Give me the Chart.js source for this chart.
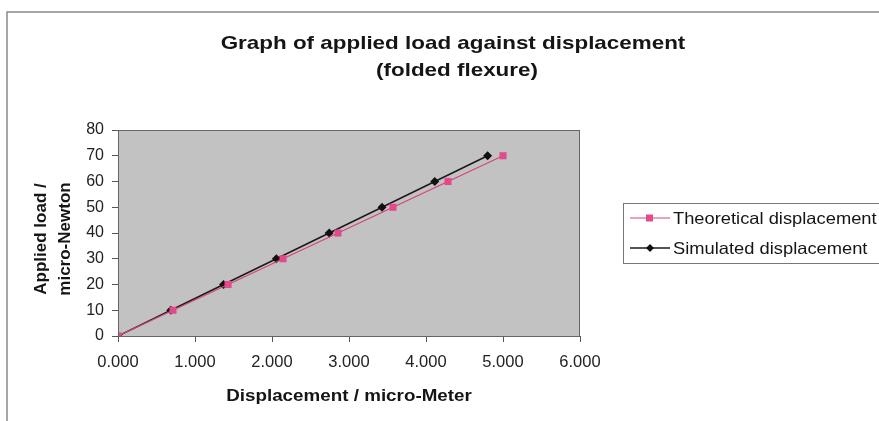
<!DOCTYPE html>
<html>
<head>
<meta charset="utf-8">
<script src="https://cdn.jsdelivr.net/npm/chart.js@4/dist/chart.umd.min.js"></script>
<style>
  html, body { margin: 0; padding: 0; background: #ffffff; }
  #wrap { position: relative; width: 879px; height: 421px; }
</style>
</head>
<body>
<div id="wrap"><canvas id="chart" width="879" height="421"></canvas></div>
<script>
// Applied load (micro-Newton) for each load step
const loads = [0, 10, 20, 30, 40, 50, 60, 70];
// Displacement (micro-Meter) predicted by theory
const theoreticalDisp = [0, 0.714, 1.429, 2.143, 2.857, 3.571, 4.286, 5.000];
// Displacement (micro-Meter) from simulation
const simulatedDisp = [0, 0.686, 1.371, 2.057, 2.743, 3.429, 4.114, 4.800];

const chartTitle = ['Graph of applied load against displacement', '(folded flexure)'];
const xTitle = 'Displacement / micro-Meter';
const yTitle = ['Applied load /', 'micro-Newton'];
const seriesNames = ['Theoretical displacement', 'Simulated displacement'];

const FONT = '"Liberation Sans", Arial, sans-serif';

function toPoints(xs, ys) {
  return xs.map((x, i) => ({ x: x, y: ys[i] }));
}

// Text drawn slightly widened, as in the sheet's printout
function wideText(ctx, text, x, y, sx) {
  ctx.save();
  ctx.translate(x, y);
  ctx.scale(sx, 1);
  ctx.fillText(text, 0, 0);
  ctx.restore();
}

// Frame, plot background and plot border
const framePlugin = {
  id: 'frame',
  beforeDraw(chart) {
    const ctx = chart.ctx;
    const a = chart.chartArea;
    ctx.save();
    ctx.fillStyle = '#ffffff';
    ctx.fillRect(0, 0, chart.width, chart.height);
    ctx.strokeStyle = '#8a8a8a';
    ctx.lineWidth = 1.5;
    ctx.beginPath();
    ctx.moveTo(7, chart.height);
    ctx.lineTo(7, 12);
    ctx.lineTo(chart.width, 12);
    ctx.stroke();
    ctx.fillStyle = '#c2c2c2';
    ctx.fillRect(a.left, a.top, a.right - a.left, a.bottom - a.top);
    ctx.restore();
  },
  afterDatasetsDraw(chart) {
    const ctx = chart.ctx;
    const a = chart.chartArea;
    ctx.save();
    ctx.strokeStyle = '#666666';
    ctx.lineWidth = 1;
    ctx.strokeRect(a.left + 0.5, a.top + 0.5, a.right - a.left - 1, a.bottom - a.top);
    ctx.restore();
  }
};

// Title, axis titles and the boxed legend on the right
const textPlugin = {
  id: 'texts',
  afterDraw(chart) {
    const ctx = chart.ctx;
    const a = chart.chartArea;
    ctx.save();
    ctx.fillStyle = '#151515';
    ctx.textAlign = 'center';
    ctx.textBaseline = 'middle';
    ctx.font = 'bold 19px ' + FONT;
    wideText(ctx, chartTitle[0], 453, 44, 1.18);
    wideText(ctx, chartTitle[1], 457, 71, 1.18);

    ctx.font = 'bold 16.5px ' + FONT;
    wideText(ctx, xTitle, (a.left + a.right) / 2, 396, 1.14);

    ctx.save();
    ctx.translate(41, 239);
    ctx.rotate(-Math.PI / 2);
    ctx.font = 'bold 17px ' + FONT;
    ctx.fillText(yTitle[0], 0, 0);
    ctx.fillText(yTitle[1], 0, 24);
    ctx.restore();

    // legend box
    ctx.strokeStyle = '#777777';
    ctx.lineWidth = 1;
    ctx.strokeRect(623.5, 203.5, 270, 60);
    ctx.font = '16.5px ' + FONT;
    ctx.textAlign = 'left';
    const rows = [218, 248];
    chart.data.datasets.forEach((ds, i) => {
      const y = rows[i];
      ctx.strokeStyle = ds.borderColor;
      ctx.lineWidth = ds.borderWidth;
      ctx.beginPath();
      ctx.moveTo(630, y);
      ctx.lineTo(670, y);
      ctx.stroke();
      ctx.fillStyle = ds.pointBackgroundColor;
      ctx.beginPath();
      if (ds.pointStyle === 'rect') {
        ctx.rect(646, y - 3.5, 7, 7);
      } else {
        ctx.moveTo(650, y - 4); ctx.lineTo(654, y); ctx.lineTo(650, y + 4); ctx.lineTo(646, y);
        ctx.closePath();
      }
      ctx.fill();
      ctx.fillStyle = '#151515';
      ctx.save();
      ctx.translate(673, y + 1);
      ctx.scale(1.11, 1);
      ctx.fillText(ds.label, 0, 0);
      ctx.restore();
    });
    ctx.restore();
  }
};

new Chart(document.getElementById('chart'), {
  type: 'scatter',
  data: {
    datasets: [
      {
        label: seriesNames[0],
        data: toPoints(theoreticalDisp, loads),
        showLine: true,
        borderColor: '#d9407f',
        borderWidth: 1.2,
        pointStyle: 'rect',
        pointRadius: 5,
        pointBackgroundColor: '#e24a8c',
        pointBorderColor: '#e24a8c',
        pointBorderWidth: 0
      },
      {
        label: seriesNames[1],
        data: toPoints(simulatedDisp, loads),
        showLine: true,
        borderColor: '#1a1a1a',
        borderWidth: 1.5,
        pointStyle: 'rectRot',
        pointRadius: 4.5,
        pointBackgroundColor: '#111111',
        pointBorderColor: '#111111',
        pointBorderWidth: 0
      }
    ]
  },
  plugins: [framePlugin, textPlugin],
  options: {
    responsive: false,
    animation: false,
    layout: { padding: { left: 0, right: 299, top: 130, bottom: 0 } },
    plugins: {
      legend: { display: false },
      title: { display: false },
      tooltip: { enabled: false }
    },
    scales: {
      x: {
        type: 'linear',
        min: 0,
        max: 6,
        afterFit(scale) { scale.height = 85; },
        grid: { drawOnChartArea: false, drawTicks: true, tickLength: 6, color: '#555555' },
        border: { display: false },
        ticks: {
          stepSize: 1,
          padding: 11,
          color: '#222222',
          font: { family: FONT, size: 16.5 },
          callback: (v) => Number(v).toFixed(3)
        }
      },
      y: {
        type: 'linear',
        min: 0,
        max: 80,
        afterFit(scale) { scale.width = 118; },
        grid: { drawOnChartArea: false, drawTicks: true, tickLength: 6, color: '#555555' },
        border: { display: false },
        ticks: {
          stepSize: 10,
          padding: 8,
          color: '#222222',
          font: { family: FONT, size: 16 }
        }
      }
    }
  }
});
</script>
</body>
</html>
